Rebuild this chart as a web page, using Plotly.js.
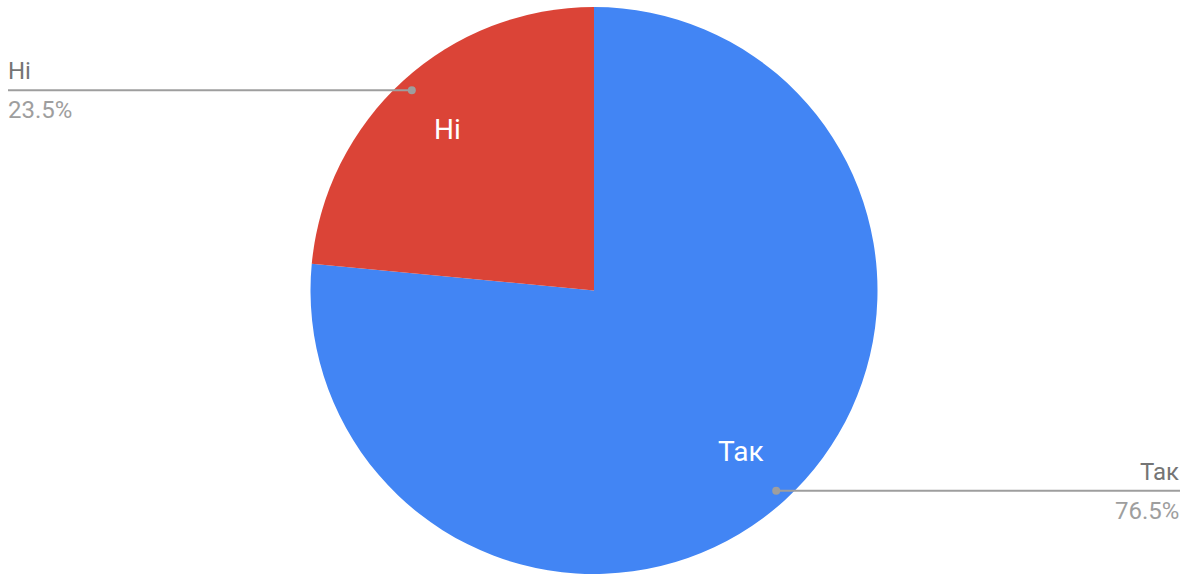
<!DOCTYPE html>
<html>
<head>
<meta charset="utf-8">
<script src="https://cdn.plot.ly/plotly-3.0.1.min.js"></script>
<style>html,body{margin:0;padding:0;background:#fff;}#chart{width:1194px;height:574px;}</style>
</head>
<body>
<div id="chart"></div>
<script>
const labels = ["Так", "Ні"];
const values = [76.5, 23.5];
const colors = ["#4285F4", "#DB4437"];

const W = 1194, H = 574;
const M = {l: 0, r: 0, t: 7, b: 0};
const domX = [0, 1188 / 1194];
const plotW = W - M.l - M.r, plotH = H - M.t - M.b;
const cx = M.l + plotW * (domX[0] + domX[1]) / 2;
const cy = M.t + plotH / 2;
const R = Math.min(plotW * (domX[1] - domX[0]), plotH) / 2;

const px2x = p => (p - M.l) / plotW;
const px2y = p => (H - M.b - p) / plotH;

const total = values.reduce((a, b) => a + b, 0);
const annotations = [];
const shapes = [];
let cum = 0;
values.forEach((v, i) => {
  const mid = (cum + v / 2) / total * 2 * Math.PI;
  cum += v;
  const sx = Math.sin(mid), sy = -Math.cos(mid);
  // inside label
  annotations.push({
    xref: 'paper', yref: 'paper', showarrow: false,
    x: px2x(cx + 0.77 * R * sx), y: px2y(cy + 0.77 * R * sy),
    text: labels[i], font: {family: 'Roboto', size: 28, color: '#ffffff'},
    xanchor: 'center', yanchor: 'middle'
  });
  // leader line
  const dx = cx + 0.955 * R * sx, dy = cy + 0.955 * R * sy;
  const right = sx > 0;
  const ex = right ? W - 14 : 8;
  shapes.push({type: 'line', xref: 'paper', yref: 'paper',
    x0: px2x(dx), y0: px2y(dy), x1: px2x(ex), y1: px2y(dy),
    line: {color: '#9E9E9E', width: 2}});
  shapes.push({type: 'circle', xref: 'paper', yref: 'paper',
    x0: px2x(dx - 4), x1: px2x(dx + 4), y0: px2y(dy - 4), y1: px2y(dy + 4),
    fillcolor: '#9E9E9E', line: {width: 0}});
  const tx = right ? ex + 1 : ex - 2;
  annotations.push({
    xref: 'paper', yref: 'paper', showarrow: false,
    x: px2x(tx), y: px2y(dy - 3),
    text: labels[i], font: {family: 'Roboto', size: 24, color: '#757575'},
    xanchor: right ? 'right' : 'left', yanchor: 'bottom'
  });
  annotations.push({
    xref: 'paper', yref: 'paper', showarrow: false,
    x: px2x(tx), y: px2y(dy + 4),
    text: (v / total * 100).toFixed(1) + '%', font: {family: 'Roboto', size: 24, color: '#9E9E9E'},
    xanchor: right ? 'right' : 'left', yanchor: 'top'
  });
});

Plotly.newPlot('chart', [{
  type: 'pie',
  labels: labels,
  values: values,
  marker: {colors: colors, line: {width: 0}},
  sort: false,
  direction: 'clockwise',
  rotation: 0,
  textinfo: 'none',
  hoverinfo: 'label+percent',
  domain: {x: domX, y: [0, 1]}
}], {
  width: W, height: H,
  margin: M,
  showlegend: false,
  paper_bgcolor: '#ffffff',
  font: {family: 'Roboto'},
  annotations: annotations,
  shapes: shapes
}, {displayModeBar: false, staticPlot: true});
</script>
</body>
</html>
